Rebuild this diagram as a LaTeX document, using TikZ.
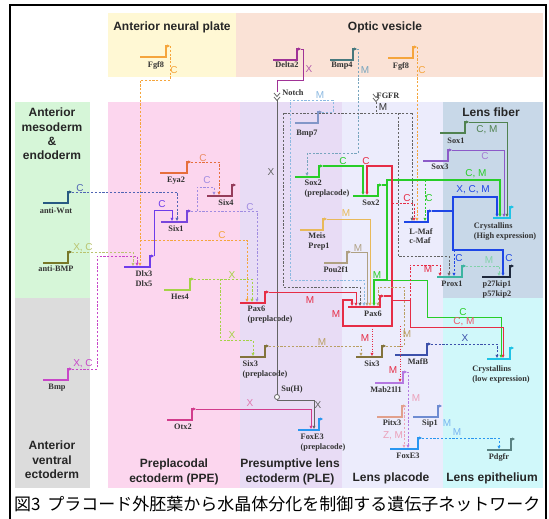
\documentclass[tikz,border=0pt]{standalone}
\usepackage{fontspec}
\setmainfont{Liberation Sans}
\newfontfamily\gfont{Liberation Serif}
\newfontfamily\jpfont{Noto Sans CJK JP}
\usetikzlibrary{arrows.meta}
\definecolor{rANP}{RGB}{255,248,212}
\definecolor{rOV}{RGB}{250,226,214}
\definecolor{rMes}{RGB}{214,246,216}
\definecolor{rAVE}{RGB}{220,220,220}
\definecolor{rPPE}{RGB}{252,214,238}
\definecolor{rPLE}{RGB}{232,220,245}
\definecolor{rLP}{RGB}{236,236,252}
\definecolor{rLF}{RGB}{200,216,232}
\definecolor{rLE}{RGB}{208,248,250}
\definecolor{cOr}{RGB}{245,165,60}
\definecolor{cDel}{RGB}{160,50,150}
\definecolor{cBmpF}{RGB}{70,120,125}
\definecolor{cBmpFD}{RGB}{120,165,190}
\definecolor{cGray}{RGB}{100,100,100}
\definecolor{cBmpS}{RGB}{130,150,200}
\definecolor{cBmpSD}{RGB}{140,185,225}
\definecolor{cSoxB}{RGB}{40,205,40}
\definecolor{cMeis}{RGB}{232,185,90}
\definecolor{cPou}{RGB}{175,160,130}
\definecolor{cWnt}{RGB}{40,90,130}
\definecolor{cWntD}{RGB}{80,100,180}
\definecolor{cABMP}{RGB}{120,120,40}
\definecolor{cABMPD}{RGB}{185,195,110}
\definecolor{cBmp}{RGB}{200,70,200}
\definecolor{cEya}{RGB}{230,110,60}
\definecolor{cSixF}{RGB}{150,60,90}
\definecolor{cSixA}{RGB}{120,70,220}
\definecolor{cSixAD}{RGB}{160,140,225}
\definecolor{cDlx}{RGB}{110,60,235}
\definecolor{cHes}{RGB}{165,210,70}
\definecolor{cPax}{RGB}{230,45,70}
\definecolor{cSixT}{RGB}{130,115,60}
\definecolor{cSixTD}{RGB}{185,160,100}
\definecolor{cOtx}{RGB}{210,60,140}
\definecolor{cFox}{RGB}{40,150,240}
\definecolor{cMafB}{RGB}{60,80,170}
\definecolor{cMab}{RGB}{180,120,225}
\definecolor{cPitx}{RGB}{225,160,140}
\definecolor{cPitxD}{RGB}{235,160,185}
\definecolor{cSip}{RGB}{110,140,210}
\definecolor{cSipL}{RGB}{120,180,240}
\definecolor{cPdg}{RGB}{90,130,130}
\definecolor{cSoxA}{RGB}{80,130,80}
\definecolor{cSoxC}{RGB}{140,90,200}
\definecolor{cLMaf}{RGB}{30,70,230}
\definecolor{cCry}{RGB}{30,195,230}
\definecolor{cProx}{RGB}{60,180,160}
\definecolor{cProxD}{RGB}{130,210,170}
\definecolor{cPkip}{RGB}{30,40,60}
\newcommand{\GN}[7]{%
  \draw[gl,#2,gtip] (#3,#5) -- (#4,#5) -- (#4,#5-11) -- (#4+4,#5-11);
  \coordinate (#1) at (#4+4,#5-11);
  \node[glab] (#1-lab) at #7 {#6};
}
\begin{document}
\begin{tikzpicture}[x=1pt,y=-1pt,
  gl/.style={line width=1.3pt},
  gtip/.style={-{Triangle[length=3pt,width=3pt]}},
  con/.style={line width=0.9pt},
  dcon/.style={line width=0.9pt,dash pattern=on 2.2pt off 1.6pt},
  dotc/.style={line width=1pt,dash pattern=on 1pt off 1.5pt},
  tgt/.style={-{Triangle[length=3.2pt,width=2.8pt]}},
  glab/.style={font=\gfont\bfseries\fontsize{8.3}{9.4}\selectfont,anchor=north,align=left,inner sep=0pt,text=black!80},
  clab/.style={font=\fontsize{10}{10}\selectfont,inner sep=0pt},
  rlab/.style={font=\bfseries\fontsize{12}{14.3}\selectfont,align=center,inner sep=0pt,text=black!85}]
\useasboundingbox (0,0) rectangle (549,519);
\fill[white] (0,0) rectangle (549,519);
% regions
\fill[rANP] (108,13) rectangle (236,77);
\fill[rOV] (236,13) rectangle (543,77);
\fill[rMes] (15,102) rectangle (90,298);
\fill[rAVE] (15,298) rectangle (90,488);
\fill[rPPE] (108,102) rectangle (240,488);
\fill[rPLE] (240,102) rectangle (342,488);
\fill[rLP] (342,102) rectangle (443,488);
\fill[rLF] (443,102) rectangle (543,298);
\fill[rLE] (443,298) rectangle (543,488);
\draw[black,line width=1.6pt] (10,530) -- (10,5) -- (546,5) -- (546,530);
% region labels
\node[rlab] (tANP) at (172,27) {Anterior neural plate};
\node[rlab] (tOV) at (385,27) {Optic vesicle};
\node[rlab] (tMes) at (52,134) {Anterior\\mesoderm\\\&\\endoderm};
\node[rlab] (tLF) at (491,112) {Lens fiber};
\node[rlab] (tAVE) at (52,460) {Anterior\\ventral\\ectoderm};
\node[rlab] (tPPE) at (174,472) {Preplacodal\\ectoderm (PPE)};
\node[rlab] (tPLE) at (290,472) {Presumptive lens\\ectoderm (PLE)};
\node[rlab] (tLP) at (391,478) {Lens placode};
\node[rlab] (tLE) at (492,478) {Lens epithelium};
\node[anchor=west,inner sep=0pt,font=\jpfont\fontsize{17}{18}\selectfont] (cap) at (14,504) {図3\hspace{0.4em}プラコード外胚葉から水晶体分化を制御する遺伝子ネットワーク};
% genes
\GN{fgfA}{cOr}{140}{166}{57}{Fgf8}{(156,61)}
\GN{delta}{cDel}{273}{297}{60}{Delta2}{(287,62)}
\GN{bmpf}{cBmpF}{330}{353}{60}{Bmp4}{(342,62)}
\GN{fgfB}{cOr}{388}{413}{58}{Fgf8}{(401,62)}
\GN{bmpS}{cBmpS}{295}{318}{123}{Bmp7}{(307,130)}
\GN{soxp}{cSoxB}{295}{319}{177}{Sox2\\(preplacode)}{(327,180)}
\GN{meis}{cMeis}{300}{323}{230}{Meis\\Prep1}{(319,233)}
\GN{pou}{cPou}{324}{347}{263}{Pou2f1}{(336,266)}
\GN{soxl}{cSoxB}{353}{378}{196}{Sox2}{(371,200)}
\GN{pax}{cPax}{348}{380}{307}{Pax6}{(373,311)}
\GN{sixtl}{cSixT}{356}{382}{357}{Six3}{(372,361)}
\GN{mafb}{cMafB}{395}{427}{355}{MafB}{(418,358)}
\GN{mab}{cMab}{375}{403}{383}{Mab21l1}{(386,387)}
\GN{pitx}{cPitx}{377}{402}{417}{Pitx3}{(392,420)}
\GN{sip}{cSip}{413}{438}{417}{Sip1}{(430,420)}
\GN{foxl}{cFox}{390}{418}{449}{FoxE3}{(408,453)}
\GN{pdgfr}{cPdg}{487}{511}{450}{Pdgfr}{(499,453)}
\GN{soxa}{cSoxA}{440}{465}{133}{Sox1}{(456,138)}
\GN{soxc}{cSoxC}{423}{448}{161}{Sox3}{(440,164)}
\GN{lmaf}{cLMaf}{404}{428}{222}{L-Maf\\c-Maf}{(421,228)}
\GN{cryh}{cCry}{493}{510}{218}{Crystallins\\(High expression)}{(505,223)}
\GN{prox}{cProx}{437}{462}{277}{Prox1}{(452,281)}
\GN{pkip}{cPkip}{482}{510}{277}{p27kip1\\p57kip2}{(497,281)}
\GN{cryl}{cCry}{487}{510}{359}{Crystallins\\(low expression)}{(501,366)}
\GN{wnt}{cWnt}{43}{68}{203}{anti-Wnt}{(56,208)}
\GN{abmp}{cABMP}{43}{68}{263}{anti-BMP}{(56,266)}
\GN{bmp}{cBmp}{43}{68}{380}{Bmp}{(57,384)}
\GN{eya}{cEya}{160}{187}{173}{Eya2}{(176,177)}
\GN{sixf}{cSixF}{207}{232}{196}{Six4}{(226,200)}
\GN{sixa}{cSixA}{161}{187}{222}{Six1}{(176,226)}
\GN{dlx}{cDlx}{124}{150}{267}{Dlx3\\Dlx5}{(144,271)}
\GN{hes}{cHes}{164}{190}{290}{Hes4}{(180,294)}
\GN{paxp}{cPax}{240}{265}{303}{Pax6\\(preplacode)}{(270,306)}
\GN{sixtp}{cSixT}{240}{265}{357}{Six3\\(preplacode)}{(265,361)}
\GN{otx}{cOtx}{167}{192}{420}{Otx2}{(183,424)}
\GN{foxp}{cFox}{298}{319}{430}{FoxE3\\(preplacode)}{(323,434)}
% Notch / FGFR / Su(H)
\node[glab,anchor=center] (notch) at (293,93) {Notch};
\node[glab,anchor=center] (fgfr) at (388,96) {FGFR};
\node[glab,anchor=center] (suh) at (292,390) {Su(H)};
\draw[cGray,line width=0.8pt] (274,93) -- (277,96.5) -- (280,93) (274,97) -- (277,100.5) -- (280,97);
\draw[cGray,line width=0.8pt] (373,94) -- (376,97.5) -- (379,94) (373,98) -- (376,101.5) -- (379,98);
% connectors
\draw[dcon,cOr,tgt] (fgfA) -- (170,80) -- (140,80) -- (140,266);
\draw[dcon,cOr,tgt] (140,240) -- (247,240) -- (247,302);
\draw[con,cDel] (delta) -- (303,49) -- (303,80) -- (277,80) -- (277,92);
\draw[con,cGray] (277,100) -- (277,395);
\node[circle,draw=cGray,fill=white,line width=0.8pt,inner sep=0pt,minimum size=5pt] (suhc) at (277,397) {};
\draw[con,cGray,tgt] (suhc.south) -- (277,400) -- (314,400) -- (314,429);
\draw[dcon,cBmpFD,tgt] (bmpf) -- (358,49) -- (358,153) -- (307,153) -- (307,176);
\draw[dcon,cOr,tgt] (fgfB) -- (417,221);
\draw[dcon,cGray] (376,102) -- (376,113);
\draw[dcon,cGray,tgt] (412,113) -- (283,113) -- (283,287) -- (360,287) -- (360,306);
\draw[dcon,cGray,tgt] (412,113) -- (412,221);
\draw[dcon,cGray,tgt] (398,113) -- (398,256) -- (449,256) -- (449,276);
\draw[dcon,cBmpSD,tgt] (bmpS) -- (333,112) -- (333,100) -- (290,100) -- (290,280) -- (364,280) -- (364,306);
\draw[dcon,cWntD,tgt] (wnt) -- (177,192) -- (177,221);
\draw[dcon,cABMPD,tgt] (abmp) -- (133,252) -- (133,266);
\draw[dcon,cBmp,tgt] (bmp) -- (97,369) -- (97,256) -- (137,256) -- (137,266);
\draw[dcon,cEya,tgt] (eya) -- (219,162) -- (219,195);
\draw[dcon,cSixAD,tgt] (sixa) -- (257,211) -- (257,302);
\draw[dcon,cSixAD,tgt] (197,211) -- (197,187) -- (214,187) -- (214,195);
\draw[con,cDlx,tgt] (dlx) -- (154,210) -- (172,210) -- (172,221);
\draw[dcon,cHes,tgt] (hes) -- (252,279) -- (252,302);
\draw[dcon,cHes,tgt] (220,279) -- (220,340) -- (253,340) -- (253,356);
\draw[con,cPax,tgt] (paxp) -- (356,292) -- (356,306);
\draw[dcon,cSixTD,tgt] (sixtp) -- (361,346) -- (361,356);
\draw[con,cOtx,tgt] (otx) -- (311,409) -- (311,429);
\draw[con,cSoxB,line width=1.4pt,tgt] (soxp) -- (363,166) -- (363,195);
\draw[con,cMeis,tgt] (meis) -- (370,219) -- (370,306);
\draw[con,cPou,tgt] (pou) -- (367,252) -- (367,306);
\draw[con,cSoxB,line width=1.5pt,tgt] (soxl) -- (387,185) -- (387,280) -- (374,280) -- (374,306);
\draw[con,cSoxB,line width=1.5pt,tgt] (387,185) -- (387,180) -- (500,180) -- (500,217);
\draw[dcon,cSoxB,tgt] (425,180) -- (425,221);
\draw[con,cSoxB,tgt] (387,280) -- (427,280) -- (427,317) -- (501,317) -- (501,358);
\draw[con,cPax,line width=1.8pt,tgt] (pax) -- (392,296) -- (392,166) -- (367,166) -- (367,195);
\draw[con,cPax,line width=1.8pt,tgt] (392,296) -- (392,326) -- (343,326) -- (343,300) -- (352,300) -- (352,306);
\draw[dcon,cPax,tgt] (392,203) -- (414,203) -- (414,221);
\draw[con,cPax,tgt] (392,300) -- (410,300) -- (410,327) -- (503,327) -- (503,358);
\draw[dcon,cPax,tgt] (410,300) -- (410,265) -- (440,265) -- (440,276);
\draw[dotc,cPax,tgt] (372,326) -- (372,356);
\draw[dotc,cPax,tgt] (400,326) -- (400,382);
\draw[dcon,cSixTD,tgt] (sixtl) -- (404,346) -- (404,287) -- (378,287) -- (378,306);
\draw[dcon,cMafB,tgt] (mafb) -- (497,344) -- (497,358);
\draw[dcon,cMab,tgt] (mab) -- (408,372) -- (408,448);
\draw[dcon,cPitxD,tgt] (pitx) -- (404,406) -- (404,448);
\draw[dcon,cFox,tgt] (foxl) -- (499,438) -- (499,449);
\draw[con,cSoxA,tgt] (soxa) -- (507,122) -- (507,217);
\draw[con,cSoxC,tgt] (soxc) -- (504,150) -- (504,217);
\draw[con,cLMaf,line width=1.6pt,tgt] (lmaf) -- (453,211) -- (453,197) -- (497,197) -- (497,217);
\draw[con,cLMaf,line width=1.1pt,tgt] (453,211) -- (453,250) -- (503,250) -- (503,276);
\draw[dcon,cLMaf,tgt] (454,250) -- (454,276);
\draw[dcon,cProxD,tgt] (prox) -- (499,266) -- (499,276);
% connector labels
\node[clab,text=cOr] (l1) at (174,70) {C};
\node[clab,text=cDel!80] (l2) at (309,69) {X};
\node[clab,text=cBmpFD] (l3) at (365,70) {M};
\node[clab,text=cOr] (l4) at (422,70) {C};
\node[clab,text=black!80] (l5) at (383,107) {M};
\node[clab,text=cBmpSD] (l6) at (320,95) {M};
\node[clab,text=cWntD] (l7) at (80,188) {C};
\node[clab,text=cABMPD] (l8) at (83,248) {X, C};
\node[clab,text=cBmp] (l9) at (83,364) {X, C};
\node[clab,text=cEya!80] (l10) at (203,158) {C};
\node[clab,text=cSixAD] (l11) at (207,180) {C};
\node[clab,text=cSixAD] (l12) at (250,207) {C};
\node[clab,text=cDlx] (l13) at (162,204) {C};
\node[clab,text=cOr] (l14) at (222,235) {C};
\node[clab,text=cHes] (l15) at (232,275) {X};
\node[clab,text=cHes] (l16) at (232,335) {X};
\node[clab,text=cPax] (l17) at (310,300) {M};
\node[clab,text=cPax] (l18) at (336,314) {M};
\node[clab,text=cSoxB] (l19) at (343,161) {C};
\node[clab,text=cPax] (l20) at (366,161) {C};
\node[clab,text=cMeis] (l21) at (346,213) {M};
\node[clab,text=cPou] (l22) at (358,248) {M};
\node[clab,text=cSoxB] (l23) at (377,275) {M};
\node[clab,text=cGray] (l24) at (271,172) {X};
\node[clab,text=cSixTD] (l25) at (322,342) {M};
\node[clab,text=cOtx!70] (l26) at (250,403) {X};
\node[clab,text=cGray] (l27) at (318,405) {X};
\node[clab,text=cSoxA] (l28) at (487,130) {C, M};
\node[clab,text=cSoxC!80] (l29) at (485,156) {C};
\node[clab,text=cSoxB] (l30) at (476,174) {C, M};
\node[clab,text=cLMaf] (l31) at (473,190) {X, C, M};
\node[clab,text=cPax] (l32) at (407,198) {C};
\node[clab,text=cSoxB] (l33) at (429,198) {C};
\node[clab,text=cLMaf] (l34) at (459,258) {C};
\node[clab,text=cPax] (l35) at (428,269) {M};
\node[clab,text=cProxD] (l36) at (489,260) {M};
\node[clab,text=cLMaf] (l37) at (509,258) {C};
\node[clab,text=cSoxB] (l38) at (463,312) {C};
\node[clab,text=cPax!80] (l39) at (464,322) {C, M};
\node[clab,text=cMafB] (l40) at (465,338) {X};
\node[clab,text=cPax] (l41) at (365,338) {M};
\node[clab,text=cPax] (l42) at (393,370) {M};
\node[clab,text=cSixTD] (l43) at (407,334) {M};
\node[clab,text=cPitxD] (l44) at (416,398) {M};
\node[clab,text=cSipL] (l45) at (447,423) {M};
\node[clab,text=cSipL] (l46) at (457,432) {M};
\node[clab,text=cPitxD] (l47) at (393,436) {Z, M};
\end{tikzpicture}
\end{document}
